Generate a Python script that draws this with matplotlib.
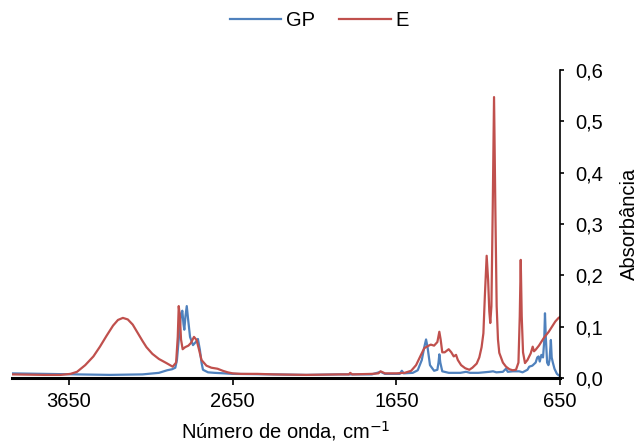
import numpy as np
import matplotlib.pyplot as plt
from matplotlib.ticker import FuncFormatter

plt.rcParams["font.family"] = ["Liberation Sans", "DejaVu Sans"]

# GP spectrum (wavenumber cm-1, absorbance)
gp_wn = [4000, 3800, 3600, 3400, 3200, 3100, 3050, 3020, 3000, 2990, 2975, 2965,
         2957, 2950, 2945, 2938, 2930, 2922, 2910, 2892, 2875, 2862, 2850, 2840,
         2831, 2800, 2760, 2700, 2650, 2400, 2200, 2000, 1800, 1747, 1720, 1630,
         1617, 1605, 1550, 1520, 1495, 1480, 1469, 1460, 1445, 1420, 1400, 1393,
         1388, 1382, 1370, 1330, 1260, 1225, 1200, 1150, 1083, 1060, 1040, 1000,
         981, 970, 940, 900, 880, 850, 839, 820, 800, 790, 782, 775, 765, 755,
         748, 743, 738, 730, 722, 715, 707, 702, 695, 685, 670, 650]
gp_abs = [0.009, 0.008, 0.007, 0.006, 0.007, 0.010, 0.015, 0.017, 0.020, 0.035, 0.090, 0.125,
          0.131, 0.105, 0.094, 0.120, 0.140, 0.115, 0.080, 0.064, 0.070, 0.076, 0.055, 0.030,
          0.016, 0.011, 0.010, 0.009, 0.008, 0.007, 0.006, 0.007, 0.007, 0.012, 0.008, 0.008,
          0.014, 0.009, 0.010, 0.015, 0.035, 0.060, 0.075, 0.060, 0.025, 0.014, 0.016, 0.030,
          0.046, 0.030, 0.013, 0.010, 0.010, 0.012, 0.010, 0.010, 0.012, 0.013, 0.011, 0.012,
          0.018, 0.012, 0.013, 0.013, 0.011, 0.016, 0.022, 0.024, 0.030, 0.040, 0.042, 0.032,
          0.045, 0.040, 0.070, 0.126, 0.080, 0.030, 0.025, 0.035, 0.074, 0.040, 0.030, 0.018,
          0.008, 0.003]

# E spectrum
e_wn = [4000, 3800, 3700, 3640, 3600, 3550, 3500, 3460, 3420, 3380, 3350, 3320,
        3290, 3260, 3230, 3200, 3176, 3140, 3100, 3054, 3016, 2995, 2985, 2979,
        2972, 2965, 2955, 2940, 2920, 2905, 2886, 2870, 2855, 2840, 2810, 2780,
        2742, 2710, 2680, 2650, 2600, 2500, 2400, 2200, 2000, 1940, 1932, 1920,
        1800, 1760, 1747, 1720, 1650, 1600, 1560, 1530, 1500, 1480, 1459, 1440,
        1420, 1400, 1388, 1380, 1370, 1355, 1331, 1315, 1300, 1286, 1275, 1255,
        1230, 1205, 1186, 1160, 1144, 1130, 1119, 1110, 1099, 1090, 1083, 1077,
        1070, 1062, 1054, 1046, 1038, 1030, 1022, 1000, 981, 960, 940, 920,
        905, 897, 891, 885, 877, 865, 850, 830, 818, 810, 800, 780,
        750, 720, 700, 680, 660, 650]
e_abs = [0.007, 0.006, 0.006, 0.008, 0.012, 0.025, 0.042, 0.061, 0.082, 0.102, 0.113, 0.117,
         0.114, 0.104, 0.088, 0.072, 0.060, 0.047, 0.037, 0.029, 0.022, 0.030, 0.080, 0.140,
         0.120, 0.075, 0.056, 0.060, 0.063, 0.068, 0.080, 0.074, 0.055, 0.035, 0.024, 0.020,
         0.018, 0.014, 0.011, 0.009, 0.008, 0.008, 0.007, 0.006, 0.007, 0.007, 0.010, 0.007,
         0.008, 0.009, 0.013, 0.009, 0.009, 0.010, 0.014, 0.025, 0.045, 0.058, 0.062, 0.065,
         0.063, 0.070, 0.090, 0.075, 0.050, 0.050, 0.056, 0.050, 0.042, 0.045, 0.035, 0.025,
         0.019, 0.016, 0.020, 0.028, 0.040, 0.060, 0.087, 0.160, 0.238, 0.190, 0.130, 0.107,
         0.140, 0.330, 0.547, 0.330, 0.140, 0.075, 0.049, 0.030, 0.022, 0.017, 0.015, 0.016,
         0.030, 0.120, 0.230, 0.120, 0.050, 0.029, 0.035, 0.048, 0.061, 0.052, 0.055, 0.063,
         0.078, 0.090, 0.100, 0.110, 0.117, 0.119]

x_ticks = [3650, 2650, 1650, 650]
y_ticks = [0.0, 0.1, 0.2, 0.3, 0.4, 0.5, 0.6]

BLUE = "#4F81BD"
RED = "#C0504D"
FS = 14.5

fig = plt.figure(figsize=(6.39, 4.45), dpi=100)
ax = fig.add_axes([0.0180, 0.1506, 0.8587, 0.6924])

ax.plot(gp_wn, gp_abs, color=BLUE, lw=1.6, label="GP")
ax.plot(e_wn, e_abs, color=RED, lw=1.6, label="E")

ax.set_xlim(4000, 650)
ax.set_ylim(0, 0.6)
ax.set_xticks(x_ticks)
ax.set_yticks(y_ticks)
ax.yaxis.set_major_formatter(FuncFormatter(lambda v, p: f"{v:.1f}".replace(".", ",")))

# y axis on the right side, x axis as a heavy baseline
ax.spines["left"].set_visible(False)
ax.spines["top"].set_visible(False)
ax.spines["bottom"].set_linewidth(2.2)
ax.spines["right"].set_linewidth(1.2)
ax.yaxis.tick_right()
ax.yaxis.set_label_position("right")
ax.tick_params(axis="x", direction="out", length=5, width=1.2, labelsize=FS, pad=5)
ax.tick_params(axis="y", direction="out", length=3, width=1.2, labelsize=FS, pad=8)

ax.set_ylabel("Absorbância", fontsize=FS, labelpad=12)
ax.set_xlabel("Número de onda, cm$^{-1}$", fontsize=FS, labelpad=6)

fig.legend(loc="center", bbox_to_anchor=(0.5, 0.953), ncol=2, frameon=False,
           fontsize=FS, handlelength=2.55, handletextpad=0.25, columnspacing=1.2)

fig.savefig("out.png", dpi=100)
